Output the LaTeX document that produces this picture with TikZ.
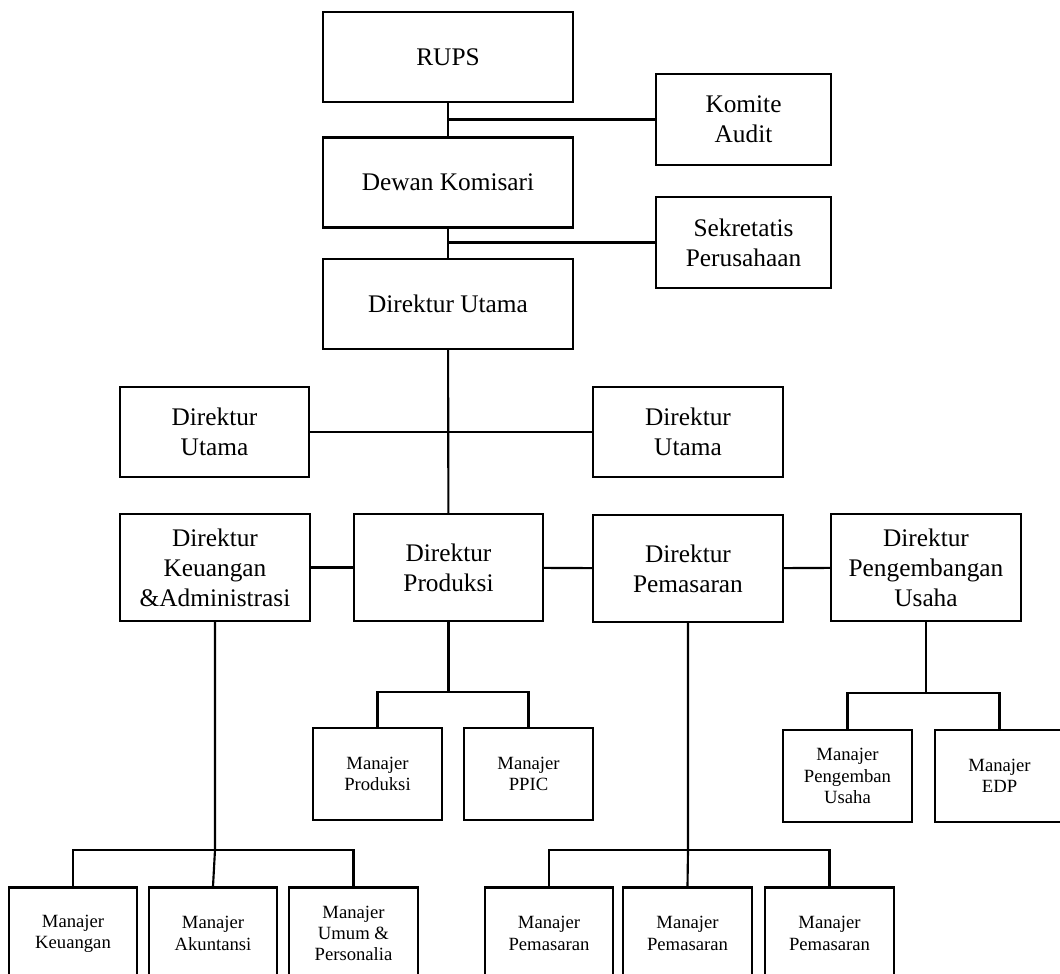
\documentclass[tikz,border=0pt]{standalone}
\usepackage{fontspec}
\setmainfont{Liberation Serif}

\begin{document}
\begin{tikzpicture}[x=0.75pt, y=-0.75pt, nodes = {align = center}]

  \tikzstyle{boss}=[draw, rectangle, line width=1.6pt, font=\fontsize{19}{22.5}\selectfont, minimum width=187.5pt, minimum height=67.5pt]
  \tikzstyle{staff}=[draw, rectangle, line width=1.6pt, font=\fontsize{19}{22.5}\selectfont, minimum width=131pt, minimum height=68pt]
  \tikzstyle{dir}=[draw, rectangle, line width=1.6pt, font=\fontsize{19}{22.5}\selectfont, minimum width=142pt, minimum height=67.5pt]
  \tikzstyle{mgr}=[draw, rectangle, line width=1.6pt, font=\fontsize{14}{16}\selectfont, minimum width=96.5pt, minimum height=69pt]
  \tikzstyle{link}=[draw, line width=1.6pt]

  \useasboundingbox (0,0) rectangle (1060,974);

  \node[boss] (rups) at (448,57) {RUPS};
  \node[boss] (dewan) at (448,182.5) {Dewan Komisari};
  \node[boss] (dirut) at (448,304) {Direktur Utama};

  \node[staff] (komite) at (743.5,119.5) {Komite\\Audit};
  \node[staff] (sekre) at (743.5,242.5) {Sekretatis\\Perusahaan};

  \node[dir] (dirutL) at (214.5,432) {Direktur\\Utama};
  \node[dir] (dirutR) at (688,432) {Direktur\\Utama};

  \node[dir, minimum height=80pt] (dirKeu) at (215,567.5) {Direktur\\Keuangan\\\&Administrasi};
  \node[dir, minimum height=80pt] (dirProd) at (448.5,567.5) {Direktur\\Produksi};
  \node[dir, minimum height=80pt] (dirPem) at (688,568.5) {Direktur\\Pemasaran};
  \node[dir, minimum height=80pt] (dirPeng) at (926,567.5) {Direktur\\Pengembangan\\Usaha};

  \node[mgr] (mProd) at (377.5,774) {Manajer\\Produksi};
  \node[mgr] (mPPIC) at (528.5,774) {Manajer\\PPIC};
  \node[mgr] (mPeng) at (847.5,776) {Manajer\\Pengemban\\Usaha};
  \node[mgr] (mEDP) at (999.5,776) {Manajer\\EDP};

  \node[mgr] (mKeu) at (73,933.5) {Manajer\\Keuangan};
  \node[mgr] (mAkun) at (213,933.5) {Manajer\\Akuntansi};
  \node[mgr] (mUmum) at (353.5,933.5) {Manajer\\Umum \&\\Personalia};
  \node[mgr] (mPem1) at (549,933.5) {Manajer\\Pemasaran};
  \node[mgr] (mPem2) at (687.5,933.5) {Manajer\\Pemasaran};
  \node[mgr] (mPem3) at (829.5,933.5) {Manajer\\Pemasaran};

  \coordinate (jProd) at (448.5,692);
  \coordinate (jPeng) at (926,693);
  \coordinate (jKeu) at (215,850);
  \coordinate (jPem) at (688,850);

  % top chain
  \draw[link] (rups) -- (dewan);
  \draw[link] (dewan) -- (dirut);
  \draw[link] (dirut) -- (dirProd);
  \draw[link] (komite.west) -- (komite.west -| rups.south);
  \draw[link] (sekre.west) -- (sekre.west -| dewan.south);
  \draw[link] (dirutL) -- (dirutR);

  % directors
  \draw[link] (dirKeu) -- (dirProd);
  \draw[link] (dirProd) -- (dirPem);
  \draw[link] (dirPem) -- (dirPeng);

  % managers
  \draw[link] (dirProd.south) -- (jProd);
  \draw[link] (mProd.north) |- (jProd) -| (mPPIC.north);
  \draw[link] (dirPeng.south) -- (jPeng);
  \draw[link] (mPeng.north) |- (jPeng) -| (mEDP.north);
  \draw[link] (dirKeu.south) -- (jKeu) -- (mAkun.north);
  \draw[link] (mKeu.north) |- (jKeu) -| (mUmum.north);
  \draw[link] (dirPem.south) -- (jPem) -- (mPem2.north);
  \draw[link] (mPem1.north) |- (jPem) -| (mPem3.north);
\end{tikzpicture}
\end{document}
